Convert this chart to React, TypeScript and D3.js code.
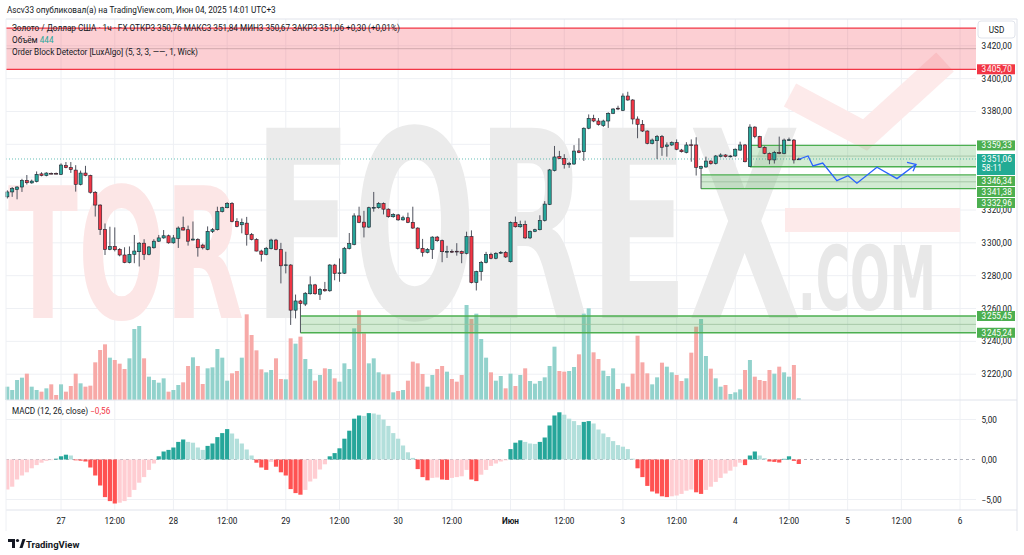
import React from "react";
import * as d3 from "d3";

// hourly XAUUSD bars, [open, high, low, close]
const ohlc: [number, number, number, number][] = [
  [3328, 3332, 3327, 3331], [3331, 3334, 3328, 3333], [3332.5, 3334.5, 3326.5, 3334], [3334, 3339, 3331, 3338],
  [3338, 3341.3, 3335.5, 3336.6], [3336.5, 3338.5, 3336, 3337.6], [3337.3, 3343.5, 3336.8, 3341.7], [3342, 3343, 3340.5, 3341],
  [3341, 3343, 3340.5, 3342.5], [3342.3, 3342.8, 3341.8, 3342], [3342.3, 3342.8, 3341.8, 3342], [3341.7, 3348.4, 3341.3, 3347.4],
  [3347, 3349.2, 3345.4, 3345.8], [3345.8, 3349.2, 3342.6, 3344.6], [3344.3, 3347.3, 3331.2, 3335.6], [3335.6, 3344, 3335, 3342.5],
  [3342.5, 3346.9, 3340.5, 3341], [3341, 3341.5, 3330, 3330.8], [3330.8, 3331.5, 3316, 3323], [3323, 3323.5, 3304.8, 3308.2],
  [3308.2, 3311.8, 3292.6, 3296], [3296, 3309.8, 3295.5, 3297.8], [3297.8, 3309.4, 3294.8, 3295.8], [3296, 3296.8, 3291.8, 3292.6],
  [3292.6, 3297.3, 3287.6, 3288], [3288, 3297.8, 3287.5, 3293], [3293, 3304.8, 3287.6, 3295], [3294.6, 3300.5, 3285.6, 3299.8],
  [3299.8, 3302.2, 3289.6, 3293], [3293, 3298, 3292.4, 3297.5], [3297, 3302.2, 3296.5, 3301], [3301, 3304.8, 3300.5, 3303],
  [3303, 3307.8, 3302.5, 3304.3], [3304.3, 3305, 3299.5, 3300], [3300, 3304.8, 3299.5, 3303], [3302.7, 3310, 3296.9, 3309],
  [3309.2, 3316, 3307.5, 3307.8], [3308, 3310.5, 3298.3, 3301], [3301.7, 3313, 3301.5, 3302.3], [3302, 3302.8, 3291.6, 3297],
  [3298.6, 3299.5, 3296, 3297], [3296, 3310, 3295.5, 3307], [3307, 3309, 3306, 3308], [3308, 3322, 3307.5, 3319],
  [3319, 3322, 3318.5, 3321.4], [3321.4, 3324.8, 3321, 3324], [3324, 3324.8, 3312.5, 3313], [3313, 3315, 3309.5, 3310],
  [3311, 3314.8, 3305.8, 3312.5], [3312, 3315.8, 3298.3, 3305], [3305, 3306, 3301.5, 3302], [3302, 3302.8, 3294.8, 3295],
  [3295, 3295.8, 3288.6, 3293], [3293, 3297.5, 3292.4, 3296.7], [3296.5, 3302.5, 3296, 3301.7], [3301.7, 3302.4, 3295.5, 3296],
  [3296, 3300, 3275.3, 3286], [3286.4, 3294.6, 3281.4, 3286.6], [3286.5, 3287, 3250, 3259], [3259, 3268.5, 3254, 3264.6],
  [3264.6, 3265.3, 3245.24, 3263], [3262.7, 3270, 3261.5, 3269.3], [3269, 3279.6, 3268.5, 3274.4], [3274.4, 3275, 3268.4, 3269],
  [3268.7, 3272.5, 3265.2, 3271.7], [3271.7, 3276.2, 3270.2, 3270.8], [3270.8, 3287, 3270.2, 3286.5], [3286.5, 3287.2, 3277.2, 3281.4],
  [3281.4, 3290.5, 3276.3, 3281.7], [3281.5, 3297.5, 3281, 3296.7], [3296.6, 3306, 3296, 3299.5], [3299, 3318, 3298.5, 3316.4],
  [3316.4, 3322, 3312, 3312.5], [3312.6, 3319.5, 3303.3, 3309.6], [3309.6, 3322, 3309, 3321.4], [3321.4, 3331, 3319, 3321.6],
  [3321.4, 3324.8, 3320.8, 3324], [3324, 3324.6, 3317.3, 3320.5], [3320.5, 3321, 3315.3, 3315.9], [3315.9, 3318, 3315.3, 3317.3],
  [3317, 3317.6, 3313.4, 3314], [3314, 3316.5, 3313.5, 3315.3], [3315.3, 3318.4, 3312, 3312.5], [3312.5, 3322, 3308.5, 3309],
  [3309, 3309.5, 3296, 3296.6], [3296.6, 3302.4, 3291.6, 3294.2], [3294.2, 3296.8, 3293.6, 3296], [3296, 3304, 3290.2, 3303.5],
  [3303.5, 3304.2, 3300.6, 3301.3], [3301.3, 3302, 3288.2, 3294.6], [3294.7, 3298.2, 3290.8, 3294.8], [3294.8, 3296, 3293.8, 3294.7],
  [3294.9, 3299.8, 3292.2, 3294.7], [3294.7, 3295.3, 3287.6, 3293.6], [3293.6, 3306.8, 3293, 3303.8], [3303.8, 3307.6, 3275.3, 3275.8],
  [3275.8, 3283, 3271, 3282.5], [3282.5, 3289, 3277, 3288], [3288, 3294.5, 3287.5, 3293], [3293, 3294, 3290, 3290.6],
  [3290.6, 3294.3, 3290, 3293.6], [3293.8, 3295, 3293.2, 3294.2], [3294.2, 3295, 3290.8, 3291.4], [3288.5, 3313, 3288, 3312.5],
  [3312.5, 3316, 3309.3, 3309.8], [3309.8, 3313.5, 3309.2, 3311.2], [3311.2, 3313.5, 3302.4, 3303], [3303, 3307.5, 3302.3, 3307],
  [3307, 3308.6, 3306.5, 3308], [3308, 3316.8, 3307.6, 3313.6], [3313.6, 3325.4, 3313, 3323.6], [3323.4, 3345, 3323, 3344.4],
  [3344, 3359, 3343.5, 3352.3], [3352.5, 3356, 3351, 3351.4], [3351.4, 3354, 3345.2, 3347.8], [3348, 3349.3, 3345.7, 3348.2],
  [3348, 3359.5, 3347.5, 3355.9], [3356, 3363.7, 3354.6, 3355], [3355.5, 3370.3, 3349.9, 3369.8], [3369.8, 3378.2, 3369.2, 3375.8],
  [3375.8, 3378, 3373.5, 3374.2], [3374.2, 3376, 3371.4, 3372], [3371.4, 3375, 3370.6, 3374.2], [3374.2, 3379.5, 3370, 3378.9],
  [3378.9, 3382, 3378.4, 3381.5], [3382, 3383.5, 3380.8, 3381.5], [3380.7, 3391, 3380.2, 3389.4], [3389.4, 3392, 3386.5, 3387],
  [3387, 3387.5, 3372.2, 3375.4], [3375.4, 3377, 3363.7, 3372.2], [3372.2, 3374.8, 3367.5, 3368.1], [3368.1, 3368.5, 3360, 3360.6],
  [3360.6, 3363.5, 3360, 3362.6], [3362.2, 3365.7, 3351, 3364.7], [3364.7, 3365.7, 3353, 3358.2], [3358.8, 3361.2, 3352.5, 3359.6],
  [3359.6, 3361.8, 3359, 3361], [3361, 3363, 3356.4, 3357], [3356.5, 3357.2, 3355, 3355.5], [3355, 3361.3, 3354.5, 3359.6],
  [3359.7, 3363, 3349.4, 3359.4], [3359.6, 3364.3, 3341, 3346], [3345.4, 3347, 3332.96, 3346.5], [3346.2, 3352.5, 3345.7, 3349.8],
  [3349.8, 3350.3, 3347.6, 3348.2], [3348.2, 3353.5, 3347.7, 3352.9], [3352.5, 3354.5, 3352, 3353.5], [3353.5, 3354, 3352, 3352.5],
  [3352.5, 3353.4, 3352, 3352.9], [3352.9, 3357.5, 3352.4, 3357], [3356.5, 3361.6, 3356, 3359.6], [3359.6, 3360.2, 3349, 3349.4],
  [3346.4, 3372.2, 3346.34, 3370.5], [3370.5, 3371, 3363.7, 3364.7], [3364.7, 3365.2, 3357.8, 3358.2], [3358.2, 3358.8, 3354, 3354.5],
  [3354.5, 3355, 3347.9, 3350.5], [3350.5, 3356, 3348.3, 3355.1], [3355.1, 3364.7, 3354, 3354.5], [3354.5, 3363.5, 3354, 3362.6],
  [3362.6, 3364.1, 3362, 3362.8], [3362.6, 3363.2, 3348.3, 3350.5], [3350.76, 3351.84, 3350.67, 3351.06],
];

const volume = [
  40, 30, 60, 67, 79, 40, 30, 25, 35, 47, 15, 47, 25, 42, 79, 50, 40, 43, 113, 150, 167, 127, 120, 109, 93, 125, 213, 222, 125, 70,
  60, 52, 65, 25, 30, 45, 53, 102, 128, 102, 48, 95, 98, 153, 127, 58, 80, 87, 127, 257, 195, 149, 92, 83, 90, 125, 63, 62, 185, 169,
  190, 123, 93, 58, 75, 95, 93, 65, 55, 110, 93, 215, 269, 200, 110, 125, 83, 77, 77, 23, 27, 30, 58, 115, 110, 78, 40, 75, 93, 102,
  85, 63, 55, 75, 285, 243, 259, 183, 127, 83, 58, 72, 35, 79, 42, 75, 95, 57, 49, 57, 68, 102, 160, 87, 85, 87, 99, 137, 259, 275,
  143, 123, 88, 72, 95, 33, 50, 40, 79, 193, 113, 80, 47, 68, 112, 100, 83, 75, 57, 65, 142, 220, 243, 132, 94, 65, 40, 45, 18, 23,
  32, 90, 120, 70, 60, 57, 90, 79, 100, 83, 70, 105, 5,
];

const macdHist = [
  -3.75, -3.4, -2.5, -2.0, -1.6, -1.1, -0.7, -0.4, -0.17, -0.08, 0.1, 0.4, 0.6, 0.5, -0.1, -0.15, -0.25, -1.0, -2.0, -3.25,
  -4.7, -5.2, -5.5, -5.4, -5.2, -4.7, -3.8, -2.9, -2.2, -1.3, -0.5, 0.4, 1.0, 1.2, 1.5, 2.2, 2.5, 2.2, 2.1, 1.5,
  1.2, 1.7, 2.0, 2.8, 3.3, 3.8, 3.25, 2.6, 2.0, 1.25, 0.5, -0.4, -1.0, -1.3, -0.3, -0.9, -1.6, -2.0, -3.7, -4.2,
  -4.4, -3.8, -2.75, -2.4, -1.25, -0.6, 0.4, 0.8, 1.4, 2.6, 3.6, 5.1, 5.5, 5.45, 5.8, 5.75, 5.6, 5.0, 4.2, 3.3,
  2.6, 1.75, 0.9, 0.2, -1.2, -2.2, -2.6, -2.3, -2.25, -2.5, -2.55, -2.3, -2.2, -2.1, -1.3, -2.5, -2.7, -1.9, -1.3, -0.8,
  -0.5, -0.25, -0.1, 1.3, 2.1, 2.4, 2.2, 2.0, 1.95, 2.2, 2.75, 4.25, 5.5, 5.9, 5.6, 5.1, 4.8, 4.3, 4.7, 4.8,
  4.5, 3.75, 3.25, 2.8, 2.3, 1.8, 1.6, 1.3, 0.1, -1.1, -2.2, -3.3, -4.0, -4.25, -4.6, -4.7, -4.6, -4.5, -4.3, -3.9,
  -3.75, -4.1, -4.3, -3.8, -3.4, -2.8, -2.3, -1.75, -1.4, -0.9, -0.4, -0.7, 0.5, 1.0, 0.5, 0.17, -0.25, -0.3, -0.38, 0.08,
  0.4, -0.17, -0.56,
];

const priceTicks = [3220, 3240, 3260, 3280, 3300, 3320, 3340, 3360, 3380, 3400, 3420];
const macdTicks = [-5, 5];
const timeTickBars = [11, 22, 34, 45, 57, 68, 80, 91, 103, 114, 126, 137, 149, 160, 172, 183, 195];
const timeTickLabels = ["27", "12:00", "28", "12:00", "29", "12:00", "30", "12:00", "Июн", "12:00", "3", "12:00", "4", "12:00", "5", "12:00", "6"];

// order blocks: top, bottom, first bar (null = before the visible range)
const bearBlocks = [{ top: 3430.8, bottom: 3405.7, from: null as number | null }];
const bullBlocks = [
  { top: 3359.33, bottom: 3346.34, from: 152 },
  { top: 3341.38, bottom: 3332.96, from: 142 },
  { top: 3255.45, bottom: 3245.24, from: 60 },
];

// hand-drawn forecast path (bar index, price)
const pathBars = [162, 163.9, 164.9, 166.9, 169.8, 172.1, 173.9, 178, 182.1, 186];
const pathPrices = [3350.9, 3352.9, 3346.8, 3348.6, 3337.9, 3340.9, 3336.3, 3346, 3339.1, 3347.8];

const lastPrice = 3351.06;

const W = 1024;
const H = 555;
const LEFT = 6;
const PLOT_R = 976;
const RIGHT = 1017;
const TOP = 19;
const MAIN_B = 400;
const MACD_B = 510;
const AXIS_B = 531;

const UP = "#26a69a";
const DOWN = "#f23645";
const FONT = "Roboto, 'Noto Sans', sans-serif";
const GRID = "#eef0f4";
const TXT = "#131722";
const AX = 8.2; // axis font size

const fmt = (v: number) =>
  d3.format(",.2f")(v).replace(/,/g, "\u202f").replace(".", ",").replace("-", "\u2212");

export default function App() {
  const x = d3.scaleLinear().domain([0, 195]).range([7.3, 960]);
  const y = d3.scaleLinear().domain([3220, 3420]).range([374.2, 45.8]);
  const yVol = d3.scaleLinear().domain([0, 285]).range([MAIN_B, 305]);
  const yM = d3.scaleLinear().domain([-5, 5]).range([499.5, 419.5]);

  const macdColor = (i: number) => {
    const v = macdHist[i];
    const prev = i > 0 ? macdHist[i - 1] : -Infinity;
    if (v >= 0) return v >= prev ? "#26a69a" : "#b2dfdb";
    return v < prev ? "#ff5252" : "#ffcdd2";
  };

  // right-axis labels stacked so they do not overlap
  type Lab = { v: number; bg: string; h: number; extra?: string };
  const labs: Lab[] = [
    ...bearBlocks.map((b) => ({ v: b.bottom, bg: DOWN, h: 10 })),
    { v: bullBlocks[0].top, bg: "#4caf50", h: 10 },
    { v: lastPrice, bg: "#22ab94", h: 21, extra: "58:11" },
    { v: bullBlocks[0].bottom, bg: "#4caf50", h: 10 },
    { v: bullBlocks[1].top, bg: "#4caf50", h: 10 },
    { v: bullBlocks[1].bottom, bg: "#4caf50", h: 10 },
    { v: bullBlocks[2].top, bg: "#4caf50", h: 10 },
    { v: bullBlocks[2].bottom, bg: "#4caf50", h: 10 },
  ];
  let prevBottom = -Infinity;
  const placed = labs.map((l) => {
    const top = Math.max(y(l.v) - 5, prevBottom + 1);
    prevBottom = top + l.h;
    return { ...l, top };
  });
  // ticks hidden under a label, as the price scale does
  const shownTicks = priceTicks.filter(
    (p) => !placed.some((l) => y(p) > l.top + 1 && y(p) < l.top + l.h - 1)
  );

  const line = d3
    .line<number>()
    .x((_, i) => x(pathBars[i]))
    .y((p) => y(p));

  const candleW = 3.2;
  const wm = "'DejaVu Sans Condensed', 'DejaVu Sans'";

  return (
    <div style={{ position: "absolute", left: 0, top: 0, width: W, height: H, background: "#fff" }}>
      <svg width={W} height={H} style={{ display: "block", fontFamily: FONT }}>
        <rect width={W} height={H} fill="#fff" />
        <defs>
          <clipPath id="plot">
            <rect x={LEFT} y={TOP} width={PLOT_R - LEFT} height={MAIN_B - TOP} />
          </clipPath>
          <clipPath id="macd">
            <rect x={LEFT} y={MAIN_B} width={PLOT_R - LEFT} height={MACD_B - MAIN_B} />
          </clipPath>
        </defs>

        {/* grid */}
        {timeTickBars.map((b, i) => (
          <line key={"vg" + i} x1={x(b)} x2={x(b)} y1={TOP} y2={MACD_B} stroke={GRID} />
        ))}
        {priceTicks.map((p) => (
          <line key={"hg" + p} x1={LEFT} x2={PLOT_R} y1={y(p)} y2={y(p)} stroke={GRID} />
        ))}
        {macdTicks.map((m) => (
          <line key={"mg" + m} x1={LEFT} x2={PLOT_R} y1={yM(m)} y2={yM(m)} stroke={GRID} />
        ))}

        {/* watermark */}
        <g clipPath="url(#plot)">
          <text x={8} y={318} fontFamily={wm} fontWeight="bold" fontSize={182}
            textLength={236} lengthAdjust="spacingAndGlyphs" fill="#fce6e6">TOR</text>
          <text x={253} y={318} fontFamily={wm} fontWeight="bold" fontSize={261}
            textLength={548} lengthAdjust="spacingAndGlyphs" fill="#ebebeb">FOREX</text>
          <text x={798} y={310} fontFamily={wm} fontWeight="bold" fontSize={89}
            textLength={138} lengthAdjust="spacingAndGlyphs" fill="#e8e8e8">.COM</text>
          <polyline points="790,95 865,135 945,62" fill="none" stroke="#fdeaea" strokeWidth={26} strokeLinejoin="miter" />
          <rect x={785} y={208} width={175} height={24} fill="#fdeaea" />
        </g>

        {/* volume */}
        {volume.map((v, i) => {
          const [o, , , c] = ohlc[i];
          return (
            <rect key={"v" + i} x={x(i) - 2} width={4} y={yVol(v)} height={MAIN_B - yVol(v)}
              fill={c >= o ? "#92d2cc" : "#f7a9a7"} />
          );
        })}

        {/* order blocks */}
        <g clipPath="url(#plot)">
          {bearBlocks.map((b, i) => {
            const x0 = b.from === null ? LEFT : x(b.from);
            return (
              <g key={"bb" + i}>
                <rect x={x0} y={y(b.top)} width={PLOT_R - x0} height={y(b.bottom) - y(b.top)} fill="rgba(242,54,69,0.24)" />
                <line x1={x0} x2={PLOT_R} y1={y((b.top + b.bottom) / 2)} y2={y((b.top + b.bottom) / 2)} stroke="#c8a0a4" strokeWidth={0.8} />
                <line x1={x0} x2={PLOT_R} y1={y(b.top)} y2={y(b.top)} stroke={DOWN} strokeWidth={1.3} />
                <line x1={x0} x2={PLOT_R} y1={y(b.bottom)} y2={y(b.bottom)} stroke={DOWN} strokeWidth={1.3} />
              </g>
            );
          })}
          {bullBlocks.map((b, i) => {
            const x0 = x(b.from);
            return (
              <g key={"gb" + i}>
                <rect x={x0} y={y(b.top)} width={PLOT_R - x0} height={y(b.bottom) - y(b.top)} fill="rgba(76,175,80,0.25)" />
                <line x1={x0} x2={PLOT_R} y1={y((b.top + b.bottom) / 2)} y2={y((b.top + b.bottom) / 2)} stroke="#9cbf9e" strokeWidth={0.8} />
                <line x1={x0} x2={PLOT_R} y1={y(b.top)} y2={y(b.top)} stroke="#4caf50" strokeWidth={1.3} />
                <line x1={x0} x2={PLOT_R} y1={y(b.bottom)} y2={y(b.bottom)} stroke="#4caf50" strokeWidth={1.3} />
              </g>
            );
          })}
        </g>

        {/* last price line */}
        <line x1={LEFT} x2={PLOT_R} y1={y(lastPrice)} y2={y(lastPrice)} stroke={UP} strokeWidth={1} strokeDasharray="1,2" opacity={0.7} />

        {/* candles */}
        {ohlc.map(([o, h, l, c], i) => {
          const up = c >= o;
          const top = y(Math.max(o, c));
          const bh = Math.max(0.8, Math.abs(y(o) - y(c)));
          return (
            <g key={"c" + i}>
              <line x1={x(i)} x2={x(i)} y1={y(h)} y2={y(l)} stroke="#50535e" strokeWidth={1} />
              <rect x={x(i) - candleW / 2} y={top} width={candleW} height={bh} fill={up ? UP : DOWN}
                stroke="#1e222d" strokeWidth={0.6} />
            </g>
          );
        })}

        {/* forecast arrow */}
        <path d={line(pathPrices) || ""} fill="none" stroke="#2962ff" strokeWidth={1.3} />
        {(() => {
          const n = pathBars.length - 1;
          const ex = x(pathBars[n]);
          const ey = y(pathPrices[n]);
          return (
            <path d={`M${ex - 9},${ey - 2} L${ex},${ey} L${ex - 3},${ey + 7}`} fill="none" stroke="#2962ff" strokeWidth={1.3} />
          );
        })()}

        {/* macd */}
        <line x1={LEFT} x2={PLOT_R} y1={yM(0)} y2={yM(0)} stroke="#b2b5be" strokeDasharray="3,3" />
        <g clipPath="url(#macd)">
          {macdHist.map((v, i) => (
            <rect key={"m" + i} x={x(i) - 2.1} width={4.2} y={Math.min(yM(v), yM(0))} height={Math.abs(yM(v) - yM(0))}
              fill={macdColor(i)} />
          ))}
        </g>

        {/* frame */}
        <line x1={LEFT} x2={RIGHT} y1={TOP} y2={TOP} stroke="#e0e3eb" />
        <line x1={LEFT} x2={RIGHT} y1={MAIN_B} y2={MAIN_B} stroke="#e0e3eb" />
        <line x1={LEFT} x2={RIGHT} y1={MACD_B} y2={MACD_B} stroke="#e0e3eb" />
        <line x1={RIGHT} x2={RIGHT} y1={TOP} y2={AXIS_B} stroke="#e0e3eb" />
        <line x1={LEFT} x2={LEFT} y1={TOP} y2={AXIS_B} stroke="#eef0f4" />

        {/* price axis */}
        {shownTicks.map((p) => (
          <text key={"pt" + p} x={981.5} y={y(p) + 3} fontSize={AX} fill={TXT}>{fmt(p)}</text>
        ))}
        {[5, 0, -5].map((m) => (
          <text key={"mt" + m} x={981.5} y={yM(m) + 3} fontSize={AX} fill={TXT}>{fmt(m)}</text>
        ))}
        <rect x={978} y={21} width={37} height={17} rx={3} fill="#fff" stroke="#e0e3eb" />
        <text x={996.5} y={32.5} fontSize={AX} textAnchor="middle" fill={TXT}>USD</text>
        {placed.map((l, i) => (
          <g key={"pl" + i}>
            <rect x={977} y={l.top} width={38} height={l.h} fill={l.bg} />
            <text x={981.5} y={l.top + 8} fontSize={AX} fill="#fff">{fmt(l.v)}</text>
            {l.extra && <text x={981.5} y={l.top + 17.5} fontSize={AX} fill="#fff">{l.extra}</text>}
          </g>
        ))}

        {/* time axis */}
        {timeTickBars.map((b, i) => (
          <text key={"tt" + i} x={x(b)} y={524} fontSize={AX} textAnchor="middle" fill={TXT}
            fontWeight={timeTickLabels[i] === "Июн" ? "bold" : "normal"}>{timeTickLabels[i]}</text>
        ))}

        {/* legends */}
        <g fontSize={8.2} fill={TXT} style={{ whiteSpace: "pre" }}>
          <text x={7} y={13}>Ascv33 опубликовал(а) на TradingView.com, Июн 04, 2025 14:01 UTC+3</text>
          <text x={12} y={31}>
            {"Золото / Доллар США · 1ч · FX   ОТКР3 350,76   МАКС3 351,84   МИН3 350,67   ЗАКР3 351,06   +0,30 (+0,01%)"}
          </text>
          <text x={12} y={43}>{"Объём  "}<tspan fill={UP}>444</tspan></text>
          <text x={12} y={54.5}>Order Block Detector [LuxAlgo] (5, 3, 3, ——, 1, Wick)</text>
          <text x={12} y={413.5}>{"MACD (12, 26, close)  "}<tspan fill={DOWN}>{fmt(macdHist[macdHist.length - 1])}</tspan></text>
        </g>

        {/* tradingview logo */}
        <g fill={TXT}>
          <path d="M8,539 h7 v9 h-3 v-6 h-4 z" />
          <circle cx={17.5} cy={540.5} r={1.6} />
          <path d="M19.5,548 l3,-9 h3 l-3,9 z" />
          <text x={26} y={547.5} fontSize={9.5} fontWeight="bold">TradingView</text>
        </g>
      </svg>
    </div>
  );
}
